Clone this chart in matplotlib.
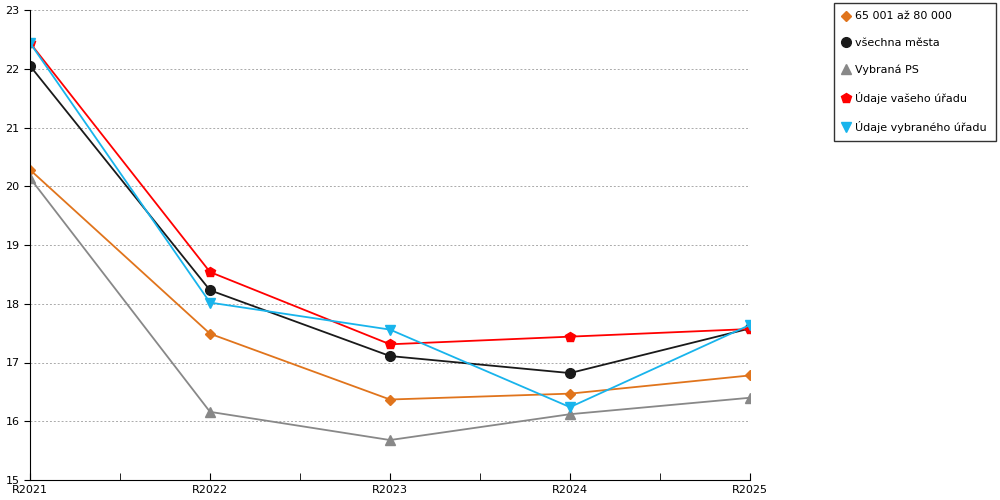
import matplotlib.pyplot as plt

years = ["R2021", "R2022", "R2023", "R2024", "R2025"]
orange_vals = [20.28, 17.49, 16.37, 16.47, 16.78]
black_vals = [22.05, 18.23, 17.11, 16.82, 17.58]
gray_vals = [20.14, 16.16, 15.68, 16.12, 16.40]
red_vals = [22.44, 18.54, 17.31, 17.44, 17.57]
cyan_vals = [22.44, 18.02, 17.56, 16.24, 17.64]

series = [
    ("65 001 až 80 000", orange_vals, "#e0741c", "D", 5),
    ("všechna města", black_vals, "#1a1a1a", "o", 7),
    ("Vybraná PS", gray_vals, "#888888", "^", 7),
    ("Údaje vašeho úřadu", red_vals, "#ff0000", "p", 7),
    ("Údaje vybraného úřadu", cyan_vals, "#18b4ec", "v", 7),
]

fig = plt.figure(figsize=(10, 5), dpi=100)
ax = fig.add_axes([0.03, 0.04, 0.72, 0.94])
x = list(range(len(years)))
for label, vals, color, marker, ms in series:
    ax.plot(x, vals, color=color, marker=marker, markersize=ms, linewidth=1.3, label=label)

ax.set_xlim(0, 4)
ax.set_ylim(15, 23)
ax.set_xticks(x)
ax.set_xticklabels(years, fontsize=8)
ax.set_xticks([0.5, 1.5, 2.5, 3.5], minor=True)
ax.tick_params(axis="x", which="both", length=5, direction="in")
ax.tick_params(axis="y", labelsize=8, length=4)
ax.grid(axis="y", linestyle=(0, (2, 2)), color="#aaaaaa", linewidth=0.7)
ax.axvline(4, linestyle=(0, (2, 2)), color="#aaaaaa", linewidth=0.7)
for s in ["top", "right"]:
    ax.spines[s].set_visible(False)

leg = fig.legend(loc="upper left", bbox_to_anchor=(0.834, 0.995), fontsize=8,
                 frameon=True, fancybox=False, edgecolor="black", labelspacing=1.5,
                 handlelength=0.6, handletextpad=0.5, borderpad=0.8, borderaxespad=0)
for h in leg.legend_handles:
    h.set_linestyle("")

fig.savefig("out.png")
